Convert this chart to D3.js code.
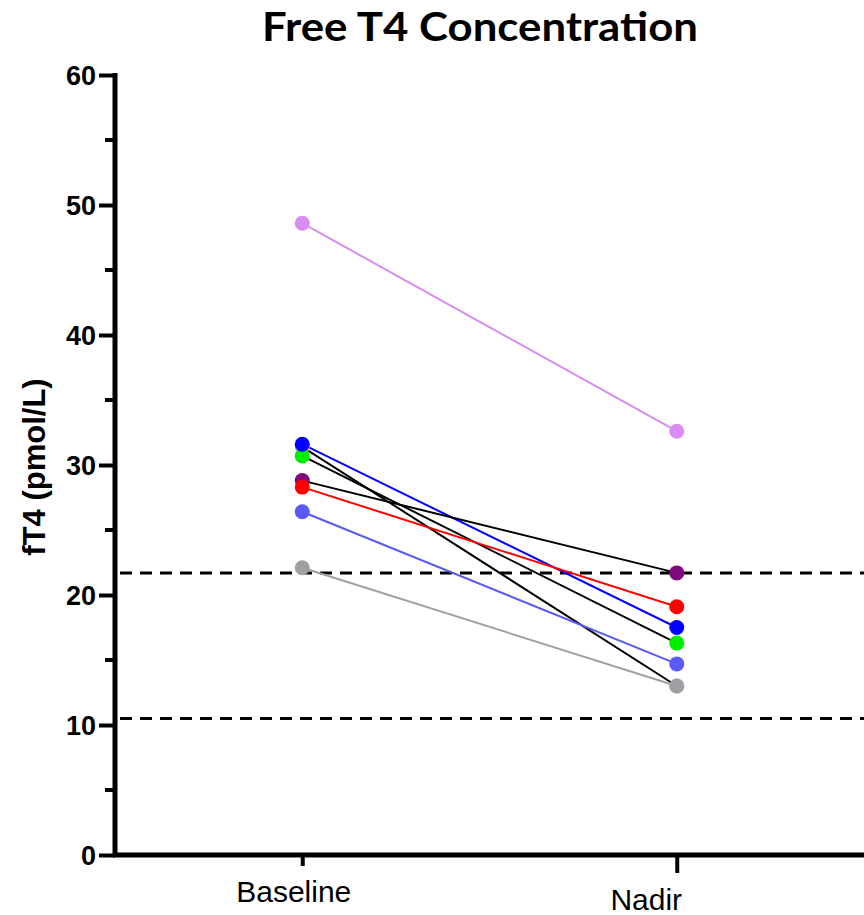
<!DOCTYPE html>
<html>
<head>
<meta charset="utf-8">
<script src="https://cdn.jsdelivr.net/npm/d3@7"></script>
<style>
  body { margin: 0; background: #fff; }
  svg { display: block; }
</style>
</head>
<body>
<svg width="864" height="915"></svg>
<script>
const timepoints = ["Baseline", "Nadir"];
// one entry per subject, drawn in this order
const baselineVals = [31.4, 48.6, 30.7, 31.6, 28.8, 28.3, 26.4, 22.1];
const nadirVals    = [13.0, 32.6, 16.3, 17.5, 21.7, 19.1, 14.7, 13.0];
const lineColors   = ["#000000", "#da8cf2", "#000000", "#0000ff", "#000000", "#ff0000", "#5a5af5", "#a0a0a4"];
const pointColors  = ["#d8a0c8", "#da8cf2", "#00ee00", "#0000ff", "#7e0a7e", "#ff0000", "#5a5af5", "#a0a0a4"];
const refLines = [21.7, 10.5];
const yTicks = [0, 10, 20, 30, 40, 50, 60];
const yMinor = [5, 15, 25, 35, 45, 55];

const svg = d3.select("svg"),
    mLeft = 115, mRight = 864, mTop = 75, mBottom = 855;
const sansFont = "'Liberation Sans', Arial, Helvetica, sans-serif";

const x = d3.scalePoint().domain(timepoints).range([mLeft, mRight]).padding(0.5);
const y = d3.scaleLinear().domain([0, 60]).range([mBottom, mTop]);

const subjects = baselineVals.map((b, i) => ({
    values: [b, nadirVals[i]],
    line: lineColors[i],
    point: pointColors[i]
}));

// title
svg.append("text")
    .attr("x", 480).attr("y", 41)
    .attr("text-anchor", "middle")
    .attr("font-family", "Lato, 'Open Sans', sans-serif")
    .attr("font-weight", "bold")
    .attr("font-size", 40)
    .attr("textLength", 436)
    .attr("lengthAdjust", "spacingAndGlyphs")
    .attr("fill", "#000")
    .text("Free T4 Concentration");

// y axis label
svg.append("text")
    .attr("transform", `translate(45,${467}) rotate(-90)`)
    .attr("text-anchor", "middle")
    .attr("font-family", sansFont)
    .attr("font-weight", "bold")
    .attr("font-size", 31)
    .text("fT4 (pmol/L)");

// reference lines
svg.append("g")
    .selectAll("line")
    .data(refLines)
    .enter().append("line")
    .attr("x1", mLeft + 5).attr("x2", mRight)
    .attr("y1", d => y(d)).attr("y2", d => y(d))
    .attr("stroke", "#000")
    .attr("stroke-width", 3)
    .attr("stroke-dasharray", "12,8");

// subject lines
const line = d3.line()
    .x((d, i) => x(timepoints[i]))
    .y(d => y(d));

svg.append("g")
    .selectAll("path")
    .data(subjects)
    .enter().append("path")
    .attr("d", d => line(d.values))
    .attr("fill", "none")
    .attr("stroke", d => d.line)
    .attr("stroke-width", 2);

// points
const pts = svg.append("g");
subjects.forEach(s => {
    pts.selectAll(null)
        .data(s.values)
        .enter().append("circle")
        .attr("cx", (d, i) => x(timepoints[i]))
        .attr("cy", d => y(d))
        .attr("r", 7.5)
        .attr("fill", s.point);
});

// y axis
const yAxis = svg.append("g")
    .attr("transform", `translate(${mLeft},0)`)
    .call(d3.axisLeft(y).tickValues(yTicks).tickSize(16).tickPadding(3).tickFormat(d3.format("d")));
yAxis.selectAll(".tick text")
    .attr("font-family", sansFont)
    .attr("font-weight", "bold")
    .attr("font-size", 27)
    .attr("dy", "0.36em");
yAxis.append("g")
    .selectAll("line")
    .data(yMinor)
    .enter().append("line")
    .attr("x1", -10).attr("x2", 0)
    .attr("y1", d => y(d)).attr("y2", d => y(d))
    .attr("stroke", "#000");

// x axis
const xAxis = svg.append("g")
    .attr("transform", `translate(0,${mBottom})`)
    .call(d3.axisBottom(x).tickSizeOuter(0).tickSize(11).tickPadding(10));
xAxis.select(".domain").attr("d", `M${mLeft - 2},0H${mRight}`);
xAxis.selectAll(".tick text")
    .attr("font-family", sansFont)
    .attr("font-size", 30)
    .attr("dy", 0)
    .attr("y", 47)
    .attr("dx", -9);
// the Nadir tick and label sit lower and further left in the original
xAxis.selectAll(".tick").filter(d => d === "Nadir")
    .each(function() {
        d3.select(this).select("line").attr("y2", 18);
        d3.select(this).select("text").attr("y", 55).attr("dx", -31);
    });

svg.selectAll(".domain").attr("stroke-width", 5);
svg.selectAll(".tick line").attr("stroke-width", 4);
yAxis.selectAll("g line").attr("stroke-width", 4);
yAxis.select(".domain").attr("d", `M0,${mTop - 2}V${mBottom + 2}`);
</script>
</body>
</html>
